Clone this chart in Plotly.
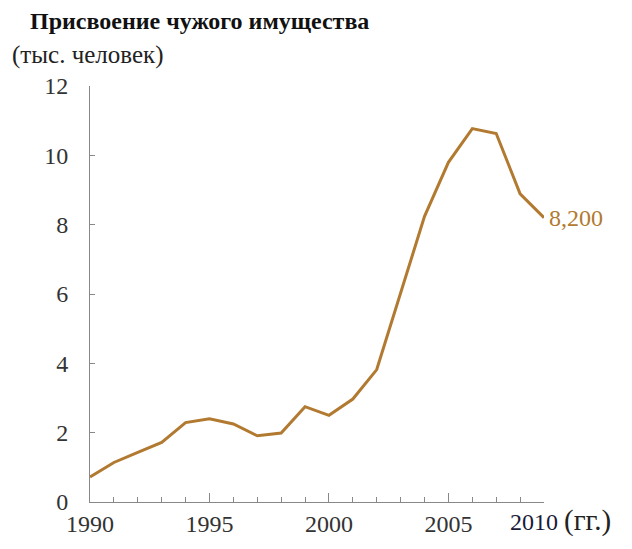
"""Line chart: misappropriation of property, thousand persons, 1990-2009."""

from plotly import graph_objects as go

years = list(range(1990, 2010))
persons = [0.72, 1.14, 1.43, 1.72, 2.29, 2.40, 2.25, 1.91, 1.99, 2.75,
           2.50, 2.97, 3.82, 6.0, 8.24, 9.8, 10.77, 10.63, 8.89, 8.2]
last_label = "8,200"
x_ticks = [1990, 1995, 2000, 2005]
y_ticks = [0, 2, 4, 6, 8, 10, 12]

LINE = "#B27A30"
SERIF = "Liberation Serif, Times New Roman, serif"

# page body keeps its default 8px margin, so the figure is 8px smaller
W, H = 624, 541
L, R, T, B = 82, 88, 78, 42
PW, PH = W - L - R, H - T - B


def px_x(x):
    return (x - 8 - L) / PW


def px_y(y):
    return (H - B + 8 - y) / PH


fig = go.Figure(
    go.Scatter(
        x=years,
        y=persons,
        mode="lines",
        line={"color": LINE, "width": 3},
        hoverinfo="skip",
    )
)

fig.update_layout(
    width=W,
    height=H,
    margin={"l": L, "r": R, "t": T, "b": B},
    plot_bgcolor="white",
    paper_bgcolor="white",
    showlegend=False,
    font={"family": SERIF, "size": 24, "color": "#333333"},
)

fig.update_xaxes(
    range=[years[0], years[-1]],
    tickvals=x_ticks,
    ticks="inside",
    ticklen=9,
    tickcolor="#888888",
    minor={"dtick": 1, "tick0": 1990, "ticks": "inside", "ticklen": 5, "tickcolor": "#888888"},
    showline=True,
    linecolor="#888888",
    linewidth=1,
    showgrid=False,
    zeroline=False,
    tickfont={"size": 24, "color": "#333333"},
)
fig.update_yaxes(
    range=[0, 12],
    tickvals=y_ticks,
    ticks="inside",
    ticklen=5,
    tickcolor="#888888",
    showline=True,
    linecolor="#888888",
    linewidth=1,
    showgrid=False,
    zeroline=False,
    ticklabelstandoff=16,
    tickfont={"size": 24, "color": "#333333"},
)

fig.add_annotation(
    x=years[-1], y=persons[-1], xref="x", yref="y",
    text=last_label, showarrow=False, xanchor="left", xshift=3,
    font={"family": SERIF, "size": 24, "color": LINE},
)
fig.add_annotation(
    x=years[-1], y=0, xref="x", yref="y",
    text="<span style='color:#1a1a3a'>2010</span> <span style='font-size:29px'>(гг.)</span>",
    showarrow=False, xanchor="left", yanchor="top", xshift=-36, yshift=0,
    font={"family": SERIF, "size": 24, "color": "#222222"},
)
fig.add_annotation(
    x=px_x(28), y=px_y(20), xref="paper", yref="paper",
    text="<b>Присвоение чужого имущества</b>",
    showarrow=False, xanchor="left", yanchor="middle",
    font={"family": SERIF, "size": 24, "color": "#111111"},
)
fig.add_annotation(
    x=px_x(10), y=px_y(55), xref="paper", yref="paper", text="(тыс. человек)",
    showarrow=False, xanchor="left", yanchor="middle",
    font={"family": SERIF, "size": 25, "color": "#222222"},
)

fig.write_html("out.html")
